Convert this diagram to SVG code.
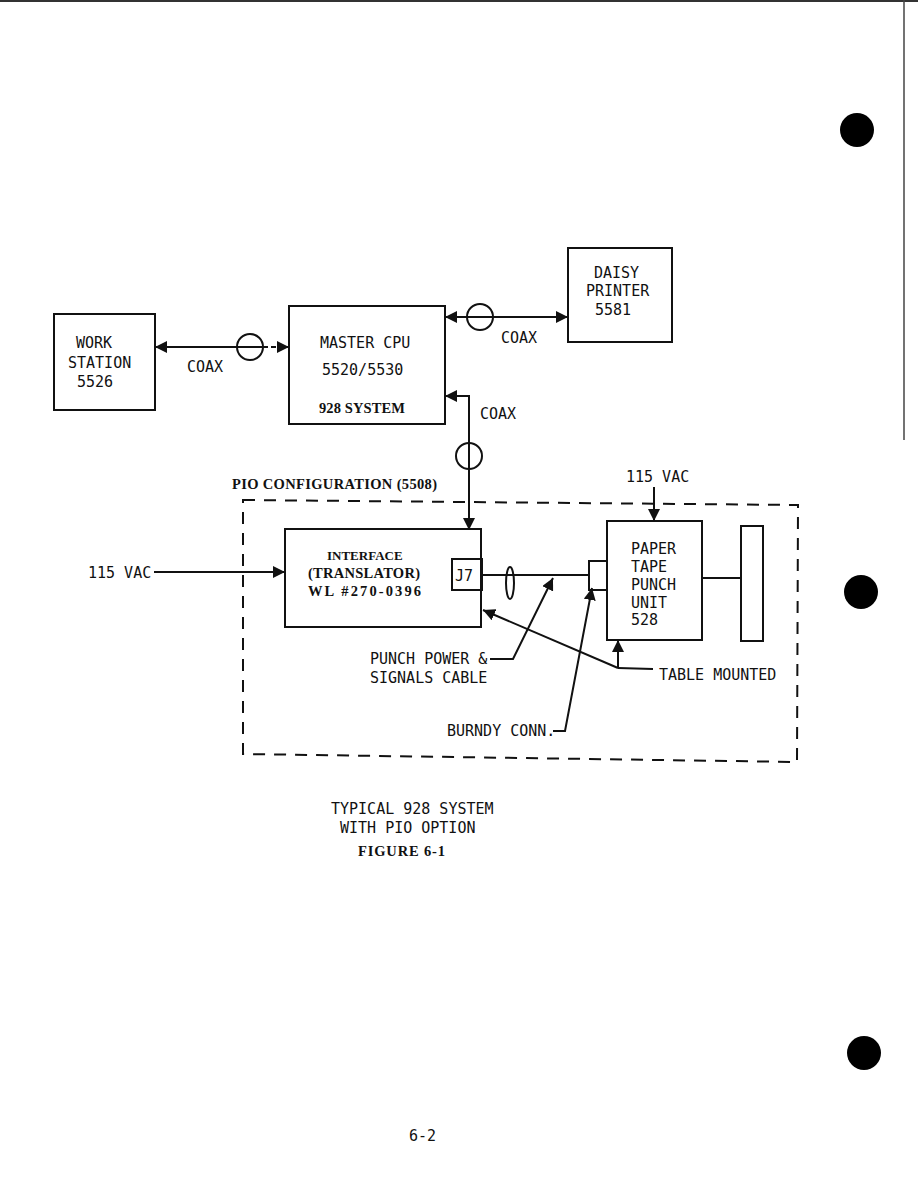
<svg xmlns="http://www.w3.org/2000/svg" width="918" height="1188" viewBox="0 0 918 1188">
<style>
.bx{fill:none;stroke:#111;stroke-width:2}
.ln{fill:none;stroke:#111;stroke-width:2}
.t{font-family:"DejaVu Sans Mono","Liberation Mono",monospace;font-size:15px;fill:#111}
.s{font-family:"Liberation Serif","DejaVu Serif",serif;font-size:14.5px;font-weight:bold;fill:#111}
</style>
<defs>
<marker id="ah" viewBox="0 0 10 10" refX="10" refY="5" markerWidth="12" markerHeight="12" markerUnits="userSpaceOnUse" orient="auto-start-reverse">
<path d="M0,0 L10,5 L0,10 Z" fill="#111"/>
</marker>
</defs>
<rect width="918" height="1188" fill="#fff"/>
<line x1="0" y1="1" x2="918" y2="1" stroke="#333" stroke-width="2"/>
<line x1="904" y1="0" x2="904" y2="440" stroke="#444" stroke-width="1.5"/>

<g id="workstation">
<rect class="bx" x="54" y="314" width="101" height="96"/>
<text class="t" x="76" y="348">WORK</text>
<text class="t" x="68" y="368">STATION</text>
<text class="t" x="77" y="387">5526</text>
</g>
<g id="mastercpu">
<rect class="bx" x="289" y="306" width="156" height="118"/>
<text class="t" x="320" y="348">MASTER CPU</text>
<text class="t" x="322" y="375">5520/5530</text>
<text class="s" x="319" y="413" textLength="86" lengthAdjust="spacing">928 SYSTEM</text>
</g>
<g id="daisy">
<rect class="bx" x="568" y="248" width="104" height="94"/>
<text class="t" x="594" y="278">DAISY</text>
<text class="t" x="586" y="296">PRINTER</text>
<text class="t" x="595" y="315">5581</text>
</g>
<g id="pio">
<text class="s" x="232" y="489" textLength="205" lengthAdjust="spacing">PIO CONFIGURATION (5508)</text>
<path d="M243,500 L798,505 L797,762 L243,754 Z" fill="none" stroke="#111" stroke-width="2" stroke-dasharray="12,9"/>
</g>
<g id="interface">
<rect class="bx" x="285" y="529" width="196" height="98"/>
<text class="s" x="327" y="560" style="font-size:13px">INTERFACE</text>
<text class="s" x="308" y="578" textLength="112" lengthAdjust="spacing">(TRANSLATOR)</text>
<text class="s" x="308" y="596" textLength="113" lengthAdjust="spacing">WL #270-0396</text>
<rect class="bx" x="452" y="559" width="30" height="31"/>
<text class="t" x="455" y="581">J7</text>
</g>
<g id="burndy">
<rect class="bx" x="589" y="561" width="18" height="29"/>
</g>
<g id="papertape">
<rect class="bx" x="607" y="521" width="95" height="119"/>
<text class="t" x="631" y="554">PAPER</text>
<text class="t" x="631" y="572">TAPE</text>
<text class="t" x="631" y="590">PUNCH</text>
<text class="t" x="631" y="608">UNIT</text>
<text class="t" x="631" y="625">528</text>
</g>
<g id="table">
<rect class="bx" x="741" y="526" width="22" height="115"/>
</g>

<g id="connectors">
<line class="ln" x1="155" y1="347" x2="237" y2="347" marker-start="url(#ah)"/>
<circle cx="250" cy="347" r="13" class="ln"/>
<line class="ln" x1="237" y1="347" x2="263" y2="347"/>
<line class="ln" x1="263" y1="347" x2="289" y2="347" stroke-dasharray="5,3" marker-end="url(#ah)"/>
<text class="t" x="187" y="372">COAX</text>

<line class="ln" x1="445" y1="317" x2="568" y2="317" marker-start="url(#ah)" marker-end="url(#ah)"/>
<circle cx="480" cy="317" r="13" class="ln"/>
<text class="t" x="501" y="343">COAX</text>

<path class="ln" d="M445,396 L469,396 L469,530" marker-start="url(#ah)" marker-end="url(#ah)"/>
<circle cx="469" cy="456" r="13" class="ln"/>
<text class="t" x="480" y="419">COAX</text>

<text class="t" x="88" y="578">115 VAC</text>
<line class="ln" x1="154" y1="572" x2="285" y2="572" marker-end="url(#ah)"/>

<text class="t" x="626" y="482">115 VAC</text>
<line class="ln" x1="654" y1="487" x2="654" y2="521" marker-end="url(#ah)"/>

<line class="ln" x1="482" y1="575" x2="589" y2="575"/>
<ellipse cx="510" cy="583" rx="4" ry="16" class="ln"/>
<line class="ln" x1="702" y1="578" x2="741" y2="578"/>

<text class="t" x="370" y="664">PUNCH POWER &amp;</text>
<text class="t" x="370" y="683">SIGNALS CABLE</text>
<path class="ln" d="M490,659 L513,659 L553,578" marker-end="url(#ah)"/>

<text class="t" x="447" y="736">BURNDY CONN.</text>
<path class="ln" d="M553,731 L565,731 L592,588" marker-end="url(#ah)"/>

<path class="ln" d="M618,668 L483,610" marker-end="url(#ah)"/>
<line class="ln" x1="618" y1="668" x2="618" y2="640" marker-end="url(#ah)"/>
<line class="ln" x1="618" y1="668" x2="653" y2="669"/>
<text class="t" x="659" y="680">TABLE MOUNTED</text>
</g>

<g id="caption">
<text class="t" x="331" y="814">TYPICAL 928 SYSTEM</text>
<text class="t" x="340" y="833">WITH PIO OPTION</text>
<text class="s" x="358" y="856" textLength="87" lengthAdjust="spacing">FIGURE 6-1</text>
<text class="t" x="409" y="1141">6-2</text>
</g>

<g id="holes" fill="#000">
<circle cx="857" cy="130" r="17"/>
<circle cx="861" cy="592" r="17"/>
<circle cx="864" cy="1053" r="17"/>
</g>
</svg>
